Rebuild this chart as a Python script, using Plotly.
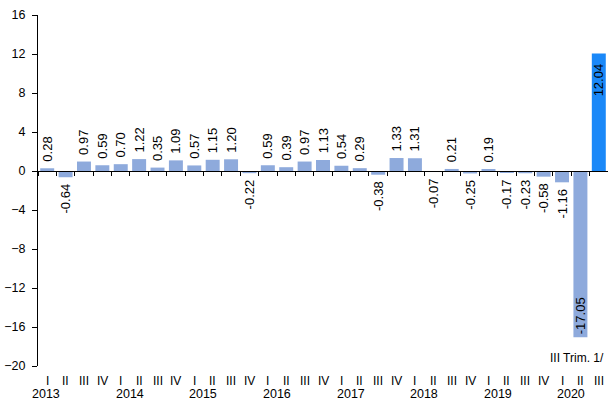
import plotly.graph_objects as go

# Quarterly change, 2013-I to 2020-III
years = ["2013", "2014", "2015", "2016", "2017", "2018", "2019", "2020"]
quarters = ["I", "II", "III", "IV"]
values = [0.28, -0.64, 0.97, 0.59,
          0.70, 1.22, 0.35, 1.09,
          0.57, 1.15, 1.20, -0.22,
          0.59, 0.39, 0.97, 1.13,
          0.54, 0.29, -0.38, 1.33,
          1.31, -0.07, 0.21, -0.25,
          0.19, -0.17, -0.23, -0.58,
          -1.16, -17.05, 12.04]
y_ticks = [-20, -16, -12, -8, -4, 0, 4, 8, 12, 16]
note = "III Trim. 1/"

# category labels (year + quarter) and the quarter label of each bar
cats, qlabels = [], []
for yr in years:
    for q in quarters:
        if len(cats) < len(values):
            cats.append(f"{yr}-{q}")
            qlabels.append(q)

n = len(values)
base_color = "#8eaadc"
last_color = "#1a88f8"
colors = [base_color] * (n - 1) + [last_color]

# labels sit outside the bar, except for the two large bars
positions = ["inside" if abs(v) > 10 else "outside" for v in values]

# a non-breaking space keeps the rotated labels a little off the bar ends
NB = "\u00a0"
labels = []
for v, p in zip(values, positions):
    s = f"{v:.2f}"
    if p == "outside":
        s = NB + s if v >= 0 else s + NB
    elif v >= 0:
        s = s + NB + NB
    labels.append(s)

font_family = "Liberation Sans, Arial, sans-serif"

fig = go.Figure(go.Bar(
    x=cats, y=values,
    marker=dict(color=colors, line=dict(width=0)),
    text=labels,
    textposition=positions,
    insidetextanchor="end",
    textangle=-90,
    textfont=dict(family=font_family, size=13, color="#000000"),
    constraintext="none",
    cliponaxis=False,
))

annotations = []
for i, q in enumerate(qlabels):
    annotations.append(dict(
        x=i, y=0, xref="x", yref="paper", text=q, showarrow=False,
        xanchor="center", yanchor="middle", yshift=-15,
        font=dict(family=font_family, size=12, color="#000000")))

year_pos = [0.5 + 4 * k for k in range(len(years))]
year_pos[0] = -0.05
for yr, xp in zip(years, year_pos):
    annotations.append(dict(
        x=xp, y=0, xref="x", yref="paper", text=yr, showarrow=False,
        xanchor="center", yanchor="middle", yshift=-28,
        font=dict(family=font_family, size=12.5, color="#000000")))

annotations.append(dict(
    x=1, y=-19.2, xref="paper", yref="y", text=note, showarrow=False,
    xanchor="right", yanchor="middle", xshift=-2,
    font=dict(family=font_family, size=12, color="#000000")))

fig.update_layout(
    width=608, height=402,
    margin=dict(l=38, r=0, t=15, b=36),
    paper_bgcolor="white", plot_bgcolor="white",
    bargap=0.24,
    showlegend=False,
    font=dict(family=font_family, size=12, color="#000000"),
    annotations=annotations,
    xaxis=dict(
        type="category", range=[-0.5, n - 0.5],
        anchor="free", position=20 / 36,
        showline=True, linecolor="#000000", linewidth=1,
        ticks="outside", tickson="boundaries", ticklen=4,
        tickcolor="#000000", showticklabels=False,
        showgrid=False, zeroline=False,
    ),
    yaxis=dict(
        range=[-20, 16], tickmode="array", tickvals=y_ticks,
        showline=True, linecolor="#000000", linewidth=1,
        ticks="outside", ticklen=5, tickcolor="#000000",
        ticklabelstandoff=4,
        tickfont=dict(family=font_family, size=12.5, color="#000000"),
        showgrid=False, zeroline=False,
    ),
)

fig.write_html("out.html")
